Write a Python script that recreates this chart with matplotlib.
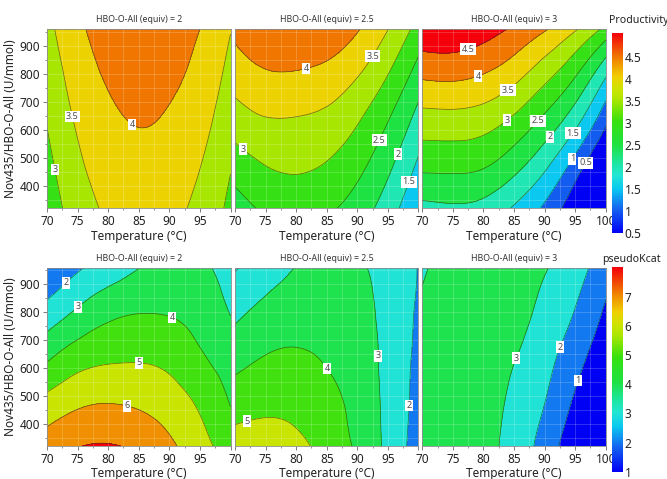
import numpy as np
import matplotlib
matplotlib.use("Agg")
import matplotlib.pyplot as plt
import matplotlib.tri as mtri
from matplotlib.colors import LinearSegmentedColormap, Normalize
from matplotlib.cm import ScalarMappable

plt.rcParams['font.family'] = ['Noto Sans', 'DejaVu Sans']

# grid the surfaces were read on
temps = [70, 75, 80, 85, 90, 95, 100]          # Temperature (°C)
nov = [320, 480, 640, 800, 960]                # Nov435/HBO-O-All (U/mmol)
equiv = ['2', '2.5', '3']

# Productivity, one row per nov value, one column per temperature
prod_2 = [[2.71, 3.24, 3.58, 3.71, 3.63, 3.36, 2.88],
          [2.87, 3.41, 3.74, 3.87, 3.79, 3.52, 3.04],
          [3.03, 3.57, 3.90, 4.03, 3.95, 3.68, 3.20],
          [3.19, 3.73, 4.06, 4.19, 4.11, 3.84, 3.36],
          [3.35, 3.89, 4.22, 4.35, 4.27, 4.00, 3.52]]
prod_25 = [[2.26, 2.58, 2.69, 2.58, 2.27, 1.74, 1.04],
           [2.76, 3.02, 3.09, 2.98, 2.66, 2.13, 1.43],
           [3.27, 3.48, 3.48, 3.38, 3.06, 2.53, 1.83],
           [3.73, 3.95, 3.96, 3.85, 3.54, 3.01, 2.30],
           [4.12, 4.40, 4.47, 4.36, 4.04, 3.51, 2.81]]
prod_3 = [[1.85, 1.92, 1.83, 1.44, 0.91, 0.12, -0.80],
          [2.65, 2.66, 2.58, 2.21, 1.64, 0.82, -0.19],
          [3.32, 3.34, 3.25, 2.93, 2.41, 1.71, 0.65],
          [4.10, 4.13, 4.00, 3.69, 3.19, 2.56, 1.58],
          [4.88, 4.90, 4.72, 4.42, 4.05, 3.55, 2.85]]

# pseudoKcat
kcat_2 = [[6.50, 6.96, 7.06, 6.80, 6.20, 5.35, 4.55],
          [5.29, 5.79, 5.95, 5.82, 5.46, 4.82, 3.94],
          [3.82, 4.53, 4.82, 4.88, 4.70, 4.13, 3.51],
          [2.38, 3.15, 3.74, 3.97, 3.93, 3.60, 2.96],
          [1.00, 1.87, 2.35, 2.98, 3.17, 3.12, 2.72]]
kcat_25 = [[5.42, 5.52, 5.30, 4.60, 3.85, 2.75, 1.55],
           [4.54, 4.73, 4.64, 4.26, 3.70, 2.73, 1.70],
           [3.63, 4.03, 4.11, 3.93, 3.55, 2.70, 1.80],
           [2.77, 3.29, 3.56, 3.62, 3.40, 2.65, 1.90],
           [1.92, 2.50, 3.03, 3.30, 3.15, 2.60, 1.97]]
kcat_3 = [[3.90, 3.75, 3.33, 2.62, 1.60, 0.27, -1.00],
          [3.60, 3.62, 3.40, 2.80, 2.02, 0.85, -0.35],
          [3.35, 3.55, 3.45, 3.05, 2.35, 1.40, 0.30],
          [3.12, 3.45, 3.50, 3.30, 2.75, 1.95, 0.85],
          [2.93, 3.22, 3.38, 3.30, 3.06, 2.40, 1.45]]

prod_levels = [0.5, 1, 1.5, 2, 2.5, 3, 3.5, 4, 4.5]
kcat_levels = [1, 2, 3, 4, 5, 6, 7]

# where the contour labels sit (layout only)
prod_lab = [[(71.6, 460), (74.4, 650), (84.0, 623)],
            [(71.5, 537), (81.9, 796), (92.8, 860), (94.2, 558), (97.0, 511), (98.5, 415)],
            [(77.5, 889), (79.1, 793), (83.8, 749), (83.8, 638), (88.6, 638),
             (90.5, 582), (94.3, 594), (94.6, 497), (96.9, 481)]]
kcat_lab = [[(73.2, 903), (75.1, 820), (90.4, 778), (85.1, 618), (83.1, 465)],
            [(72.0, 401), (85.3, 602), (93.7, 644), (98.7, 465)],
            [(85.0, 638), (92.4, 676), (95.3, 557)]]

cmap = LinearSegmentedColormap.from_list('jmp', [
    (0.00, (0/255, 0/255, 245/255)),
    (0.12, (20/255, 100/255, 240/255)),
    (0.22, (10/255, 200/255, 240/255)),
    (0.29, (35/255, 230/255, 210/255)),
    (0.34, (30/255, 230/255, 170/255)),
    (0.44, (30/255, 225/255, 65/255)),
    (0.56, (55/255, 225/255, 15/255)),
    (0.67, (175/255, 230/255, 0/255)),
    (0.72, (205/255, 228/255, 0/255)),
    (0.78, (240/255, 208/255, 0/255)),
    (0.86, (240/255, 140/255, 0/255)),
    (0.89, (240/255, 110/255, 0/255)),
    (1.00, (245/255, 0/255, 10/255))])

fig = plt.figure(figsize=(6.67, 4.79), dpi=100)
lefts = [0.0705, 0.3523, 0.6331]
W = 0.2751
rows = [(0.5649, 0.3741, [prod_2, prod_25, prod_3], prod_levels, (0.5, 5.04), prod_lab),
        (0.0689, 0.3722, [kcat_2, kcat_25, kcat_3], kcat_levels, (1.0, 8.03), kcat_lab)]

TT, NN = np.meshgrid(temps, nov)
base = mtri.Triangulation(TT.ravel() / 5.0, NN.ravel() / 160.0)
refiner = mtri.UniformTriRefiner(base)

for r, (bot, h, surfaces, levels, (vmin, vmax), labs) in enumerate(rows):
    norm = Normalize(vmin, vmax)
    bounds = [-20] + levels + [50]
    fills = [cmap(norm(u)) for u in levels + [vmax]]
    for i, z in enumerate(surfaces):
        ax = fig.add_axes([lefts[i], bot, W, h])
        zz = np.ravel(z)
        interp = mtri.CubicTriInterpolator(base, zz, kind='min_E')
        fine, zf = refiner.refine_field(zz, triinterpolator=interp, subdiv=4)
        fine = mtri.Triangulation(fine.x * 5.0, fine.y * 160.0, fine.triangles)
        ax.tricontourf(fine, zf, bounds, colors=fills)
        cs = ax.tricontour(fine, zf, levels, colors='#1e3a1e', linewidths=0.5, alpha=0.7)
        texts = ax.clabel(cs, manual=labs[i], inline=False, fmt='%g', fontsize=6.5, colors='black')
        for t in texts:
            t.set_rotation(0)
            t.set_bbox(dict(boxstyle='square,pad=0.15', fc='white', ec='none'))
        ax.set_xlim(70, 100)
        ax.set_ylim(320, 960)
        ax.set_xticks(range(70, 101, 5))
        if i < 2:
            ax.set_xticklabels(['70', '75', '80', '85', '90', '95', ''])
        ax.set_xticks(np.arange(70, 100.1, 2.5), minor=True)
        ax.set_yticks(range(400, 901, 100))
        ax.set_yticks(range(350, 951, 50), minor=True)
        ax.grid(which='both', color='white', alpha=0.22, lw=0.6)
        ax.tick_params(which='major', length=3, width=0.6, color='#666', labelsize=8.5,
                       pad=2, labelcolor='#222')
        ax.tick_params(which='minor', length=1.5, width=0.5, color='#666')
        if i > 0:
            ax.tick_params(axis='y', which='both', left=False, labelleft=False)
        else:
            ax.set_ylabel('Nov435/HBO-O-All (U/mmol)', fontsize=8.5, color='#222', labelpad=2)
        ax.set_xlabel('Temperature (°C)', fontsize=8.5, color='#222', labelpad=1)
        ax.set_title('HBO-O-All (equiv) = ' + equiv[i], fontsize=6.3, color='#333', pad=5)
        for s in ax.spines.values():
            s.set_color('#8a8a8a')
            s.set_linewidth(0.6)

    # colour bar for this row
    if r == 0:
        cax = fig.add_axes([0.917, 0.513, 0.0165, 0.4188])
        ticks = [0.5, 1, 1.5, 2, 2.5, 3, 3.5, 4, 4.5]
        fig.text(0.913, 1 - 20.7 / 479, 'Productivity', fontsize=7.6, ha='left', va='center', color='#222')
    else:
        cax = fig.add_axes([0.917, 0.0152, 0.0165, 0.4273])
        ticks = [1, 2, 3, 4, 5, 6, 7]
        fig.text(0.903, 1 - 259.5 / 479, 'pseudoKcat', fontsize=7.6, ha='left', va='center', color='#222')
    cb = fig.colorbar(ScalarMappable(norm=norm, cmap=cmap), cax=cax, ticks=ticks)
    cb.outline.set_visible(False)
    cb.ax.set_yticklabels(['%g' % t for t in ticks])
    cax.tick_params(length=0, labelsize=8.5, pad=1.5, labelcolor='#222')

fig.savefig('out.png', dpi=100)
